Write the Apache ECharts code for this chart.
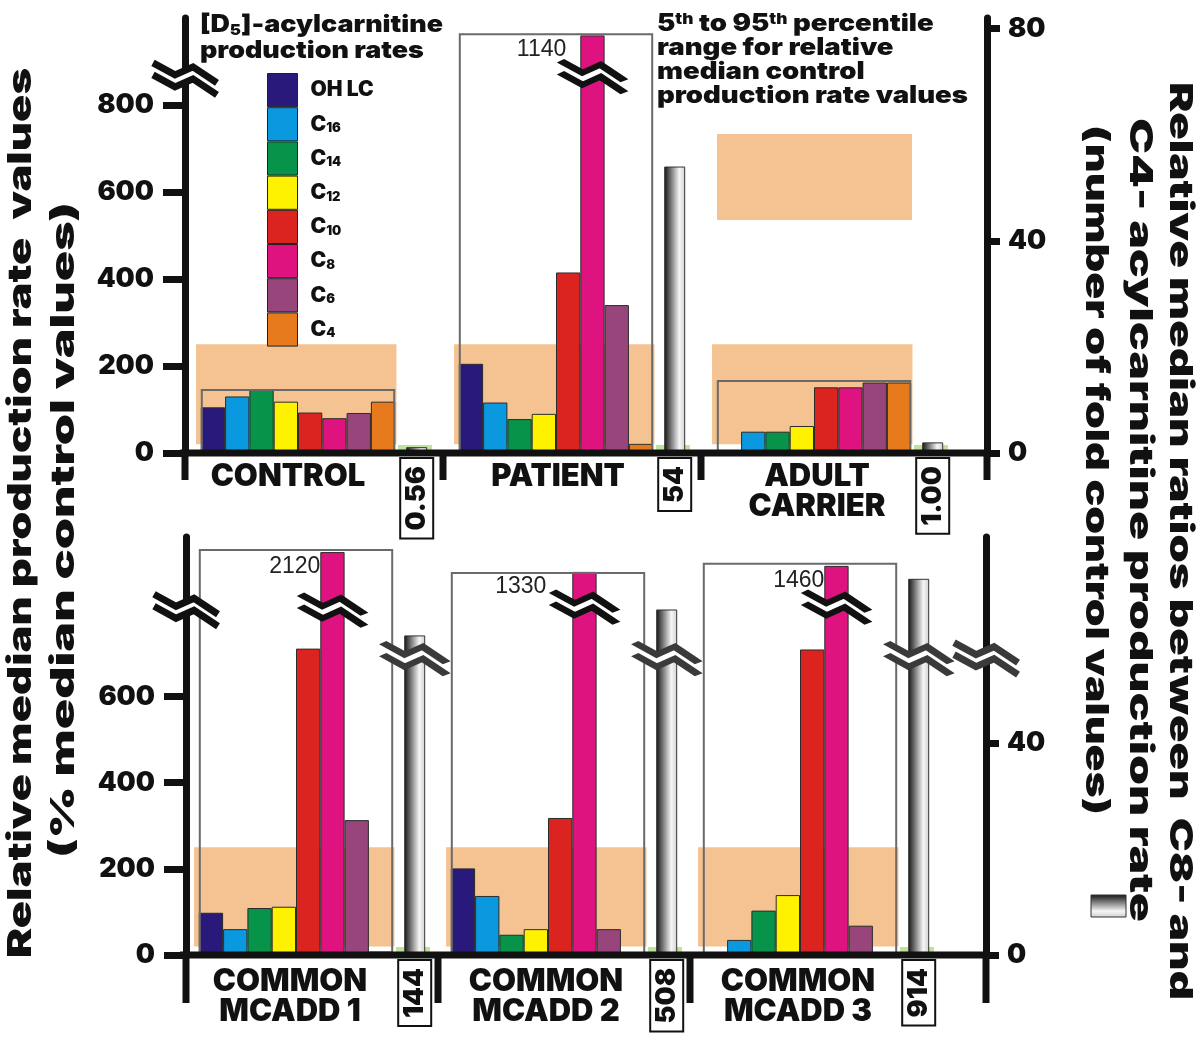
<!DOCTYPE html>
<html><head><meta charset="utf-8">
<script src="https://cdn.jsdelivr.net/npm/echarts@6/dist/echarts.min.js"></script>
<style>html,body{margin:0;padding:0;background:#fff}#chart{width:1200px;height:1047px}</style>
</head><body><div id="chart"></div>
<script>
// ---------------- data ----------------
const acylSpecies   = ['OH LC', 'C16', 'C14', 'C12', 'C10', 'C8', 'C6', 'C4'];
const speciesColors = ['#28197a', '#0a98de', '#08934a', '#fff200', '#db2420', '#df1380', '#97457b', '#e87a1e'];

const topGroups    = ['CONTROL', 'PATIENT', 'ADULT\nCARRIER'];
const bottomGroups = ['COMMON\nMCADD 1', 'COMMON\nMCADD 2', 'COMMON\nMCADD 3'];

// relative median production rates (% median control), order = acylSpecies
const controlValues      = [105, 130, 145, 118, 93, 80, 92, 118];
const patientValues      = [205, 116, 78, 90, 415, 1140, 340, 21];
const adultCarrierValues = [0, 49, 49, 62, 151, 151, 162, 162];
const mcadd1Values       = [98, 60, 109, 112, 711, 2120, 313, 8];
const mcadd2Values       = [201, 137, 47, 60, 318, 1330, 60, 0];
const mcadd3Values       = [0, 35, 103, 139, 709, 1460, 68, 0];

// C8 bars that run through the axis break: height at which they are drawn
const topC8DrawnTop    = [null, 960, null];
const bottomC8DrawnTop = [935, 889, 903];
const topC8BreakAt     = [null, 865, null];
const bottomC8BreakAt  = [800, 807, 807];

// outline boxes around each group of bars (left-axis units)
const topBoxTops    = [147, 965, 168];
const bottomBoxTops = [942, 889, 910];

// 5th–95th percentile range of control values (left-axis units)
const topRangeLow     = [20, 20, 20];
const topRangeHigh    = [250, 250, 250];
const bottomRangeLow  = [20, 20, 20];
const bottomRangeHigh = [250, 250, 250];

// C8/C4 ratio (fold control) – labels, and bar heights as drawn on right axis
const topRatioLabels    = ['0.56', '54', '1.00'];
const topRatioDrawn     = [1.1, 54, 2.0];
const bottomRatioLabels = ['144', '508', '914'];
const bottomRatioDrawn  = [60.4, 65.3, 71.1];
const bottomRatioBreakAt = [56, 56, 56];
const topRatioRangeHigh    = [1.5, 1.5, 1.5];
const bottomRatioRangeHigh = [1.5, 1.5, 1.5];

// axis tick labels
const topLeftTicks     = [0, 200, 400, 600, 800];
const topRightTicks    = [0, 40, 80];
const bottomLeftTicks  = [0, 200, 400, 600];
const bottomRightTicks = [0, 40];

// ---------------- layout / style ----------------
const HEAVY = 'Inter, Lato, "Liberation Sans", sans-serif';
const W_BAR = 24.3, GAP = 11, W_RATIO = 21, W_BAND = 8 * W_BAR + 6, W_GREEN = 34;
const SPACER2 = (8 * W_BAR / 2 + GAP + W_RATIO / 2) - W_BAND / 2 - W_GREEN / 2;
const BAND_COLOR = '#f4c391', GREEN_COLOR = '#bfe39a';

const panels = [
  { groups: topGroups, values: [controlValues, patientValues, adultCarrierValues],
    c8Drawn: topC8DrawnTop, c8Break: topC8BreakAt, boxTops: topBoxTops,
    rangeLow: topRangeLow, rangeHigh: topRangeHigh,
    ratioLabels: topRatioLabels, ratioDrawn: topRatioDrawn, ratioBreak: null, ratioRange: topRatioRangeHigh,
    grid: { left: 185, top: 18, width: 774, height: 435 }, leftMax: 1000, rightMax: 82, rightOffset: 28,
    leftTicks: topLeftTicks, rightTicks: topRightTicks, labelShift: [-26, -14, -13], labelMargin: 9,
    brokenLabelDx: [0, -10, 0], extDown: 27 },
  { groups: bottomGroups, values: [mcadd1Values, mcadd2Values, mcadd3Values],
    c8Drawn: bottomC8DrawnTop, c8Break: bottomC8BreakAt, boxTops: bottomBoxTops,
    rangeLow: bottomRangeLow, rangeHigh: bottomRangeHigh,
    ratioLabels: bottomRatioLabels, ratioDrawn: bottomRatioDrawn, ratioBreak: bottomRatioBreakAt, ratioRange: bottomRatioRangeHigh,
    grid: { left: 186, top: 537, width: 756, height: 418 }, leftMax: 970, rightMax: 79, rightOffset: 44,
    leftTicks: bottomLeftTicks, rightTicks: bottomRightTicks, labelShift: [-22, -18, -18], labelMargin: 12,
    brokenLabelDx: [4, -22, 4], extDown: 48 }
];

const BREAK_FILL = 'path://M0 2L22 14L40 6L64 22L64 34L40 18L22 26L0 14Z';
const BREAK_LINE = 'path://M0 2L22 14L40 6L64 22M0 14L22 26L40 18L64 34';
function breakMarks(coords, color) {
  const data = [];
  coords.forEach(c => {
    data.push({ coord: c, symbol: BREAK_FILL, symbolSize: [64, 32], itemStyle: { color: '#fff', borderWidth: 0 } });
    data.push({ coord: c, symbol: BREAK_LINE, symbolSize: [64, 32], itemStyle: { color: 'rgba(0,0,0,0)', borderColor: color, borderWidth: 7 } });
  });
  return { silent: true, animation: false, label: { show: false }, data };
}

const grids = [], xAxes = [], yAxes = [], series = [];
const ratioGradient = { type: 'linear', x: 0, y: 0, x2: 1, y2: 0,
  colorStops: [{ offset: 0, color: '#121212' }, { offset: 0.72, color: '#f6f6f6' }, { offset: 1, color: '#cfcfcf' }] };

panels.forEach((P, p) => {
  grids.push(P.grid);
  const xMain = 3 * p, xBox = 3 * p + 1, xBand = 3 * p + 2, yL = 2 * p, yR = 2 * p + 1;
  const rich = {};
  P.labelShift.forEach((d, i) => {
    rich['g' + i] = { fontFamily: HEAVY, fontWeight: 900, fontSize: 31, lineHeight: 30, color: '#111',
      padding: d < 0 ? [0, -2 * d, 0, 0] : [0, 0, 0, 2 * d] };
  });
  xAxes.push({ gridIndex: p, type: 'category', data: P.groups,
    axisLine: { show: false }, axisTick: { show: false }, splitLine: { show: false },
    axisLabel: { interval: 0, margin: P.labelMargin, rich,
      formatter: (v, i) => v.split('\n').map(l => '{g' + i + '|' + l + '}').join('\n') } });
  xAxes.push({ gridIndex: p, type: 'category', data: P.groups, show: false });
  xAxes.push({ gridIndex: p, type: 'category', data: P.groups, show: false });
  const axisCommon = { type: 'value', min: 0, splitLine: { show: false },
    axisLine: { show: true, lineStyle: { color: '#111', width: 7 } } };
  yAxes.push(Object.assign({}, axisCommon, { gridIndex: p, position: 'left', max: P.leftMax, interval: 200,
    axisTick: { show: true, length: 22, lineStyle: { color: '#111', width: 7 }, customValues: P.leftTicks },
    axisLabel: { margin: 31, fontFamily: HEAVY, fontWeight: 900, fontSize: 27, color: '#111', customValues: P.leftTicks } }));
  yAxes.push(Object.assign({}, axisCommon, { gridIndex: p, position: 'right', offset: P.rightOffset, max: P.rightMax, interval: 40,
    axisTick: { show: true, length: 13, lineStyle: { color: '#111', width: 7 }, customValues: P.rightTicks },
    axisLabel: { margin: 21, fontFamily: HEAVY, fontWeight: 900, fontSize: 27, color: '#111', customValues: P.rightTicks } }));

  // percentile range bands (behind)
  series.push({ type: 'bar', name: 'rangeBase' + p, stack: 'range' + p, xAxisIndex: xBand, yAxisIndex: yL,
    barWidth: W_BAND, barGap: 0, data: P.rangeLow, itemStyle: { color: 'rgba(0,0,0,0)' }, z: 1, silent: true });
  series.push({ type: 'bar', name: 'range' + p, stack: 'range' + p, xAxisIndex: xBand, yAxisIndex: yL,
    barWidth: W_BAND, barGap: 0, data: P.rangeHigh.map((h, i) => h - P.rangeLow[i]),
    itemStyle: { color: BAND_COLOR }, z: 1, silent: true });
  series.push({ type: 'bar', name: 'sp2_' + p, xAxisIndex: xBand, yAxisIndex: yL, barWidth: SPACER2, barGap: 0,
    data: ['-', '-', '-'], silent: true });
  series.push({ type: 'bar', name: 'ratioRange' + p, xAxisIndex: xBand, yAxisIndex: yR, barWidth: W_GREEN, barGap: 0,
    data: P.ratioRange, itemStyle: { color: GREEN_COLOR }, z: 1, silent: true });

  // species bars
  acylSpecies.forEach((sp, s) => {
    const data = P.values.map((vals, g) => {
      if (s === 5 && P.c8Drawn[g] != null) {
        return { value: P.c8Drawn[g],
          label: { show: true, formatter: String(vals[s]), position: [P.brokenLabelDx[g] - 4, 3],
            align: 'right', verticalAlign: 'top', fontFamily: '"Liberation Sans", Arial, sans-serif',
            fontSize: 23, color: '#222' } };
      }
      return vals[s];
    });
    const ser = { type: 'bar', name: sp, xAxisIndex: xMain, yAxisIndex: yL, barWidth: W_BAR, barGap: 0, data,
      itemStyle: { color: speciesColors[s], borderColor: '#2b2b2b', borderWidth: 1 }, z: 3 };
    if (s === 5) {
      const coords = [];
      P.c8Break.forEach((b, g) => { if (b != null) coords.push([g, b]); });
      ser.markPoint = breakMarks(coords, '#111');
    }
    series.push(ser);
  });
  series.push({ type: 'bar', name: 'sp1_' + p, xAxisIndex: xMain, yAxisIndex: yL, barWidth: GAP, barGap: 0,
    data: ['-', '-', '-'], silent: true });
  const ratioSer = { type: 'bar', name: 'ratio' + p, xAxisIndex: xMain, yAxisIndex: yR, barWidth: W_RATIO, barGap: 0,
    data: P.ratioDrawn, itemStyle: { color: ratioGradient, borderColor: '#333', borderWidth: 1 }, z: 3,
    label: { show: true, position: 'bottom', distance: 6, rotate: 90, align: 'right', verticalAlign: 'middle',
      formatter: prm => P.ratioLabels[prm.dataIndex], fontFamily: HEAVY, fontWeight: 900, fontSize: 27, lineHeight: 27,
      color: '#111', backgroundColor: '#fff', borderColor: '#111', borderWidth: 2, padding: [2, 7, 2, 7] } };
  if (P.ratioBreak) ratioSer.markPoint = breakMarks(P.ratioBreak.map((b, g) => [g, b]), '#3a3a3a');
  series.push(ratioSer);

  // group outline boxes
  series.push({ type: 'bar', name: 'box' + p, xAxisIndex: xBox, yAxisIndex: yL, barWidth: 8 * W_BAR, barGap: 0,
    data: P.boxTops, itemStyle: { color: 'rgba(0,0,0,0)', borderColor: '#6a6a6a', borderWidth: 2 }, z: 4, silent: true });
  series.push({ type: 'bar', name: 'sp3_' + p, xAxisIndex: xBox, yAxisIndex: yL, barWidth: GAP + W_RATIO, barGap: 0,
    data: ['-', '-', '-'], silent: true });
});

const chart = echarts.init(document.getElementById('chart'), null, { renderer: 'canvas' });
chart.setOption({
  backgroundColor: '#fff', animation: false,
  grid: grids, xAxis: xAxes, yAxis: yAxes, series,
  legend: { data: acylSpecies, orient: 'vertical', left: 262, top: 68, itemWidth: 30, itemHeight: 33.2, itemGap: 0,
    icon: 'rect', selectedMode: false, itemStyle: { borderColor: '#222', borderWidth: 1 },
    textStyle: { padding: [0, 0, 0, 8],
      rich: { n: { fontFamily: HEAVY, fontWeight: 900, fontSize: 21, color: '#111' },
              s: { fontFamily: HEAVY, fontWeight: 900, fontSize: 13, color: '#111', verticalAlign: 'bottom', padding: [8, 0, 0, 0] } } },
    formatter: n => /^C\d+$/.test(n) ? '{n|C}{s|' + n.slice(1) + '}' : '{n|' + n + '}' }
});

// ---------------- decorations (axes extensions, breaks, titles) ----------------
function breakGraphic(cx, cy, color) {
  const up = [[-32, -16], [-10, -4], [8, -12], [32, 4]];
  const lo = [[-32, -4], [-10, 8], [8, 0], [32, 16]];
  return { type: 'group', x: cx, y: cy, children: [
    { type: 'polygon', z: 120, shape: { points: up.concat(lo.slice().reverse()) }, style: { fill: '#fff' } },
    { type: 'polyline', z: 121, shape: { points: up }, style: { stroke: color, lineWidth: 7, fill: null } },
    { type: 'polyline', z: 121, shape: { points: lo }, style: { stroke: color, lineWidth: 7, fill: null } } ] };
}
const gfx = [];
panels.forEach((P, p) => {
  const yBase = chart.convertToPixel({ yAxisIndex: 2 * p }, 0);
  const band = P.grid.width / 3;
  const rightX = P.grid.left + P.grid.width + P.rightOffset;
  gfx.push({ type: 'line', z: 110, shape: { x1: 180, y1: yBase, x2: rightX + 4, y2: yBase }, style: { stroke: '#111', lineWidth: 7 } });
  [P.grid.left, P.grid.left + band, P.grid.left + 2 * band, rightX].forEach(x => {
    gfx.push({ type: 'line', z: 110, shape: { x1: x, y1: yBase, x2: x, y2: yBase + P.extDown }, style: { stroke: '#111', lineWidth: 7 } });
  });
});
gfx.push(breakGraphic(185, chart.convertToPixel({ yAxisIndex: 0 }, 860), '#111'));
gfx.push(breakGraphic(186, chart.convertToPixel({ yAxisIndex: 2 }, 800), '#111'));
gfx.push(breakGraphic(986, chart.convertToPixel({ yAxisIndex: 3 }, 56), '#3a3a3a'));

// rotated titles stretched along their reading direction to the reference length
const measureCtx = document.createElement('canvas').getContext('2d');
function textWidth(text, size) { measureCtx.font = '900 ' + size + 'px ' + HEAVY; return measureCtx.measureText(text).width; }
function fitted(x, y, rot, text, size, targetLen) {
  return { type: 'text', x, y, rotation: rot, scaleX: targetLen / textWidth(text, size), z: 130,
    style: { text, fontFamily: HEAVY, fontWeight: 900, fontSize: size, fill: '#111', align: 'center', verticalAlign: 'middle' } };
}
gfx.push(fitted(21, 513, Math.PI / 2, 'Relative median production rate  values', 33, 890));
gfx.push(fitted(64, 530, Math.PI / 2, '(% median control values)', 33, 656));
gfx.push(fitted(1180, 541, -Math.PI / 2, 'Relative median ratios between  C8- and', 32, 918));
gfx.push(fitted(1140, 520, -Math.PI / 2, 'C4- acylcarnitine production rate', 32, 804));
gfx.push(fitted(1096, 470, -Math.PI / 2, '(number of fold control values)', 32, 690));
gfx.push({ type: 'rect', z: 130, shape: { x: 1091, y: 895, width: 35, height: 22 },
  style: { stroke: '#333', lineWidth: 1, fill: { type: 'linear', x: 0, y: 0, x2: 0, y2: 1,
    colorStops: [{ offset: 0, color: '#121212' }, { offset: 0.72, color: '#f6f6f6' }, { offset: 1, color: '#cfcfcf' }] } } });
// legend title
gfx.push({ type: 'text', x: 200, y: 12, z: 130, scaleX: 243 / (textWidth('[D]-acylcarnitine', 24) + textWidth('5', 15)),
  style: { text: '{b|[D}{s|5}{b|]-acylcarnitine}\n{b|production rates}',
  rich: { b: { fontFamily: HEAVY, fontWeight: 900, fontSize: 24, lineHeight: 26, fill: '#111' },
          s: { fontFamily: HEAVY, fontWeight: 900, fontSize: 15, lineHeight: 26, fill: '#111', verticalAlign: 'bottom' } } } });
// percentile legend
gfx.push({ type: 'text', x: 657, y: 12, z: 130, scaleX: 311 / textWidth('production rate values', 24), style: {
  text: '{b|5}{u|th}{b| to 95}{u|th}{b| percentile}\n{b|range for relative}\n{b|median control}\n{b|production rate values}',
  rich: { b: { fontFamily: HEAVY, fontWeight: 900, fontSize: 24, lineHeight: 24, fill: '#111' },
          u: { fontFamily: HEAVY, fontWeight: 900, fontSize: 15, lineHeight: 24, fill: '#111', verticalAlign: 'top' } } } });
gfx.push({ type: 'rect', z: 5, shape: { x: 717, y: 134, width: 195, height: 86 }, style: { fill: BAND_COLOR } });

chart.setOption({ graphic: gfx });
</script></body></html>
